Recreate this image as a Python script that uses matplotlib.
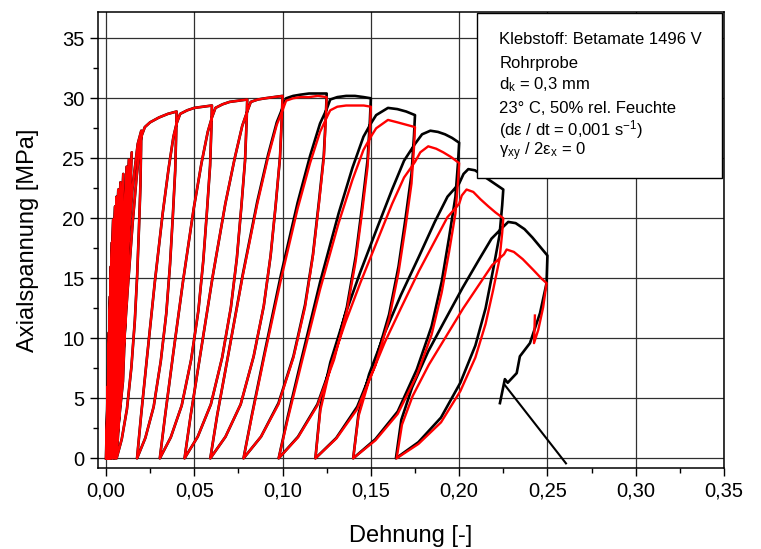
import matplotlib
matplotlib.use('Agg')
import matplotlib.pyplot as plt
from matplotlib.patches import Rectangle
from matplotlib.ticker import MultipleLocator, FixedLocator, FixedFormatter

plt.rcParams['font.family'] = ['Liberation Sans', 'DejaVu Sans']
plt.rcParams['mathtext.fontset'] = 'custom'
plt.rcParams['mathtext.rm'] = 'Liberation Sans'
plt.rcParams['mathtext.it'] = 'Liberation Sans:italic'

# ---------------- data ----------------
# path shared by both specimens (small cycles and first loops)
common_strain = [
    0.0000,
    0.0010, 0.0005, 0.0002, 0.0017, 0.0009, 0.0004, 0.0023, 0.0013, 0.0006,
    0.0028, 0.0017, 0.0009, 0.0034, 0.0021, 0.0011, 0.0041, 0.0026, 0.0014,
    0.0052, 0.0032, 0.0017, 0.0060, 0.0037, 0.0020, 0.0070, 0.0044, 0.0023,
    0.0082, 0.0052, 0.0027, 0.0098, 0.0063, 0.0032, 0.0117, 0.0076, 0.0040,
    0.0130, 0.0085, 0.0046, 0.0146, 0.0096, 0.0052,
    0.0100, 0.0150, 0.0180, 0.0200,
    0.01986, 0.01951, 0.01867, 0.01769, 0.01636, 0.0144, 0.01188, 0.00894, 0.0060,
    0.0074, 0.0095, 0.0123, 0.0151, 0.0172, 0.01888, 0.0200,
    0.022, 0.025, 0.030, 0.035, 0.040,
    0.03978, 0.03922, 0.03787, 0.0363, 0.03418, 0.03104, 0.02701, 0.0223, 0.0176,
    0.01984, 0.0232, 0.02768, 0.03216, 0.03552, 0.03821, 0.040,
    0.042, 0.046, 0.050, 0.055, 0.060,
    0.05971, 0.05897, 0.0572, 0.05513, 0.05233, 0.0482, 0.04289, 0.0367, 0.0305,
    0.03345, 0.03788, 0.04378, 0.04968, 0.0541, 0.05764, 0.060,
    0.062, 0.066, 0.070, 0.075, 0.080,
    0.07965, 0.07876, 0.07663, 0.07414, 0.07077, 0.0658, 0.05941, 0.05196, 0.0445,
    0.048, 0.05338, 0.06048, 0.06758, 0.0729, 0.07716, 0.080,
    0.082, 0.086, 0.090, 0.095, 0.100,
    0.09959, 0.09857, 0.09611, 0.09325, 0.08937, 0.08364, 0.07628, 0.06769, 0.0591,
]
common_stress = [
    0.0,
    6.0, 1.5, 0.0, 10.5, 2.6, 0.0, 13.5, 3.4, 0.0,
    16.0, 4.0, 0.0, 18.0, 4.5, 0.0, 19.9, 5.0, 0.0,
    21.0, 5.3, 0.0, 21.8, 5.5, 0.0, 22.4, 5.6, 0.0,
    23.0, 5.8, 0.0, 23.7, 5.9, 0.0, 24.3, 6.1, 0.0,
    24.9, 6.2, 0.0, 25.5, 6.4, 0.0,
    13.0, 22.5, 26.2, 27.3,
    25.7, 22.7, 19.1, 15.3, 11.5, 7.6, 4.1, 1.6, 0.0,
    3.3, 8.0, 14.1, 19.6, 23.2, 25.7, 26.8,
    27.6, 28.0, 28.4, 28.7, 28.9,
    27.2, 24.0, 20.2, 16.2, 12.1, 8.1, 4.3, 1.7, 0.0,
    3.5, 8.35, 14.7, 20.45, 24.2, 26.8, 27.9,
    28.7, 29.0, 29.2, 29.3, 29.4,
    27.6, 24.4, 20.6, 16.5, 12.3, 8.2, 4.4, 1.75, 0.0,
    3.5, 8.5, 14.9, 20.8, 24.6, 27.2, 28.4,
    29.2, 29.5, 29.7, 29.8, 29.9,
    28.1, 24.8, 20.9, 16.7, 12.6, 8.4, 4.5, 1.8, 0.0,
    3.6, 8.6, 15.2, 21.2, 25.0, 27.7, 28.9,
    29.7, 29.9, 30.0, 30.1, 30.2,
    28.4, 25.1, 21.1, 16.9, 12.7, 8.5, 4.5, 1.8, 0.0,
]

# black specimen, later loops and failure
black_strain = [
    0.063, 0.06933, 0.07751, 0.08569, 0.09182, 0.09673, 0.100,
    0.102, 0.106, 0.110, 0.115, 0.120, 0.125,
    0.12453, 0.12335, 0.12053, 0.11723, 0.11275, 0.10616, 0.09768, 0.08779, 0.0779,
    0.08261, 0.08968, 0.0991, 0.10852, 0.11558, 0.12123, 0.125,
    0.127, 0.131, 0.136, 0.141, 0.146, 0.150,
    0.14948, 0.14817, 0.14504, 0.14139, 0.13643, 0.12912, 0.11972, 0.10876, 0.0978,
    0.103, 0.11085, 0.12129, 0.13173, 0.13956, 0.14582, 0.150,
    0.153, 0.1597, 0.165, 0.170, 0.175,
    0.17444, 0.17303, 0.16964, 0.16569, 0.16034, 0.15244, 0.14229, 0.13044, 0.1186,
    0.12142, 0.12706, 0.13552, 0.14398, 0.15357, 0.16203, 0.1688, 0.175,
    0.179, 0.1837, 0.188, 0.192, 0.196, 0.200,
    0.1994, 0.1979, 0.1943, 0.1901, 0.1844, 0.176, 0.1652, 0.1526, 0.140,
    0.143, 0.149, 0.158, 0.167, 0.1772, 0.1862, 0.1934, 0.200,
    0.2025, 0.2052, 0.209, 0.213, 0.217, 0.221, 0.225,
    0.22439, 0.22287, 0.21922, 0.21497, 0.20919, 0.20068, 0.18974, 0.17697, 0.1642,
    0.16724, 0.17332, 0.18244, 0.19156, 0.2019, 0.21102, 0.21831, 0.225,
    0.2278, 0.232, 0.237, 0.2415, 0.246, 0.250,
    0.2495, 0.2458, 0.2401, 0.2344, 0.2326, 0.2275, 0.2259, 0.2245, 0.2231,
]
black_stress = [
    3.6, 8.7, 15.35, 21.4, 25.3, 28.0, 29.2,
    30.0, 30.2, 30.3, 30.4, 30.4, 30.4,
    28.6, 25.2, 21.3, 17.0, 12.8, 8.5, 4.6, 1.8, 0.0,
    3.6, 8.7, 15.3, 21.3, 25.2, 27.9, 29.1,
    29.9, 30.1, 30.2, 30.2, 30.1, 30.0,
    28.2, 24.9, 21.0, 16.8, 12.6, 8.4, 4.5, 1.8, 0.0,
    3.5, 8.35, 14.7, 20.4, 24.2, 26.8, 27.9,
    28.6, 29.2, 29.1, 28.9, 28.6,
    26.9, 23.7, 20.0, 16.0, 12.0, 8.0, 4.3, 1.7, 0.0,
    4.3, 8.0, 12.0, 15.5, 19.2, 22.4, 24.8, 26.2,
    27.0, 27.3, 27.2, 27.0, 26.7, 26.3,
    24.7, 21.8, 18.4, 14.7, 11.0, 7.4, 3.9, 1.6, 0.0,
    3.7, 7.0, 10.5, 13.6, 16.8, 19.7, 21.8, 22.9,
    23.7, 24.1, 24.0, 23.6, 23.2, 22.8, 22.4,
    21.1, 18.6, 15.7, 12.5, 9.4, 6.3, 3.4, 1.35, 0.0,
    3.2, 5.9, 8.9, 11.4, 14.2, 16.5, 18.3, 19.3,
    19.7, 19.6, 19.1, 18.4, 17.6, 16.9,
    14.6, 12.1, 9.6, 8.5, 7.1, 6.3, 6.6, 5.6, 4.6,
]

# red specimen, later loops and failure
red_strain = [
    0.063, 0.06933, 0.07751, 0.08569, 0.09182, 0.09673, 0.100,
    0.102, 0.106, 0.110, 0.115, 0.120, 0.125,
    0.12453, 0.12335, 0.12053, 0.11723, 0.11275, 0.10616, 0.09768, 0.08779, 0.0779,
    0.08261, 0.08968, 0.0991, 0.10852, 0.11558, 0.12123, 0.125,
    0.127, 0.131, 0.136, 0.141, 0.146, 0.150,
    0.14948, 0.14817, 0.14504, 0.14139, 0.13643, 0.12912, 0.11972, 0.10876, 0.0978,
    0.103, 0.11085, 0.12129, 0.13173, 0.13956, 0.14582, 0.150,
    0.153, 0.1597, 0.165, 0.170, 0.175,
    0.17444, 0.17303, 0.16964, 0.16569, 0.16034, 0.15244, 0.14229, 0.13044, 0.1186,
    0.12142, 0.12706, 0.13552, 0.14398, 0.15357, 0.16203, 0.1688, 0.175,
    0.178, 0.1825, 0.187, 0.191, 0.1955, 0.200,
    0.1994, 0.1979, 0.1943, 0.1901, 0.1844, 0.176, 0.1652, 0.1526, 0.140,
    0.143, 0.149, 0.158, 0.167, 0.1772, 0.1862, 0.1934, 0.200,
    0.2015, 0.2042, 0.208, 0.212, 0.2165, 0.2205, 0.225,
    0.22439, 0.22287, 0.21922, 0.21497, 0.20919, 0.20068, 0.18974, 0.17697, 0.1646,
    0.16762, 0.1737, 0.18284, 0.19196, 0.2023, 0.21142, 0.21871, 0.2254,
    0.2269, 0.231, 0.236, 0.242, 0.2465, 0.2495,
    0.2476, 0.2448, 0.2424, 0.2429,
]
red_stress = [
    3.6, 8.7, 15.25, 21.2, 25.1, 27.8, 29.0,
    29.8, 30.0, 30.1, 30.1, 30.2, 30.1,
    28.3, 25.0, 21.1, 16.9, 12.6, 8.4, 4.5, 1.8, 0.0,
    3.5, 8.5, 14.9, 20.8, 24.6, 27.2, 28.4,
    29.0, 29.3, 29.4, 29.4, 29.4, 29.3,
    27.5, 24.3, 20.5, 16.4, 12.3, 8.2, 4.4, 1.75, 0.0,
    3.3, 8.0, 14.1, 19.6, 23.2, 25.7, 26.8,
    27.5, 28.2, 28.0, 27.8, 27.6,
    25.9, 22.9, 19.3, 15.5, 11.6, 7.7, 4.1, 1.65, 0.0,
    4.0, 7.6, 11.3, 14.6, 18.1, 21.2, 23.4, 24.7,
    25.5, 26.0, 25.8, 25.5, 25.1, 24.6,
    23.1, 20.4, 17.2, 13.8, 10.3, 6.9, 3.7, 1.5, 0.0,
    3.5, 6.5, 9.7, 12.5, 15.6, 18.1, 20.1, 21.2,
    21.9, 22.4, 22.2, 21.6, 21.0, 20.5, 20.0,
    18.8, 16.6, 14.0, 11.2, 8.4, 5.6, 3.0, 1.2, 0.0,
    2.8, 5.2, 7.8, 10.0, 12.5, 14.5, 16.1, 17.0,
    17.4, 17.2, 16.6, 15.7, 15.0, 14.6,
    12.6, 10.7, 9.6, 11.9,
]

# straight line at the end of the black curve
drop_line_strain = [0.2259, 0.2605]
drop_line_stress = [6.1, -0.42]

xtick_values = [0.00, 0.05, 0.10, 0.15, 0.20, 0.25, 0.30, 0.35]
xtick_labels = ['0,00', '0,05', '0,10', '0,15', '0,20', '0,25', '0,30', '0,35']
ytick_values = [0, 5, 10, 15, 20, 25, 30, 35]
ytick_labels = ['0', '5', '10', '15', '20', '25', '30', '35']

info_lines = [
    'Klebstoff: Betamate 1496 V',
    'Rohrprobe',
    r'd$_\mathregular{k}$ = 0,3 mm',
    '23° C, 50% rel. Feuchte',
    r'(dε / dt = 0,001 s$^\mathregular{-1}$)',
    r'γ$_\mathregular{xy}$ / 2ε$_\mathregular{x}$ = 0',
]

# ---------------- figure ----------------
fig = plt.figure(figsize=(7.61, 5.49), dpi=100)
ax = fig.add_axes([0.1288, 0.147, 0.8226, 0.8311])

ax.plot(common_strain + black_strain, common_stress + black_stress,
        color='black', lw=1.9, zorder=3, solid_joinstyle='round')
ax.plot(drop_line_strain, drop_line_stress, color='black', lw=1.5, zorder=3)
ax.plot(common_strain + red_strain, common_stress + red_stress,
        color='#ff0000', lw=1.7, zorder=4, solid_joinstyle='round')

ax.set_xlim(-0.0045, 0.35)
ax.set_ylim(-0.83, 37.19)

ax.xaxis.set_major_locator(FixedLocator(xtick_values))
ax.xaxis.set_major_formatter(FixedFormatter(xtick_labels))
ax.yaxis.set_major_locator(FixedLocator(ytick_values))
ax.yaxis.set_major_formatter(FixedFormatter(ytick_labels))
ax.xaxis.set_minor_locator(MultipleLocator(0.025))
ax.yaxis.set_minor_locator(MultipleLocator(2.5))

ax.tick_params(which='both', direction='out', top=False, right=False,
               width=1.0, labelsize=14.5, pad=4)
ax.tick_params(which='major', length=5.8)
ax.tick_params(which='minor', length=3.6)

ax.grid(True, which='major', color='#303030', lw=0.9)
ax.set_axisbelow(True)
for sp in ax.spines.values():
    sp.set_linewidth(1.1)

ax.set_xlabel('Dehnung [-]', fontsize=17)
ax.set_ylabel('Axialspannung [MPa]', fontsize=17)
ax.xaxis.set_label_coords(0.5, -0.125)
ax.yaxis.set_label_coords(-0.095, 0.5)

box = Rectangle((0.606, 0.6356), 0.9973 - 0.606, 0.9971 - 0.6356,
                transform=ax.transAxes, facecolor='white', edgecolor='black',
                lw=1.0, zorder=5)
ax.add_patch(box)
baselines = [0.9299, 0.8777, 0.8316, 0.7780, 0.7298, 0.6866]
for txt, yb in zip(info_lines, baselines):
    ax.text(0.641, yb, txt, transform=ax.transAxes, fontsize=12,
            va='baseline', ha='left', zorder=6)

fig.savefig('out.png', dpi=100)
